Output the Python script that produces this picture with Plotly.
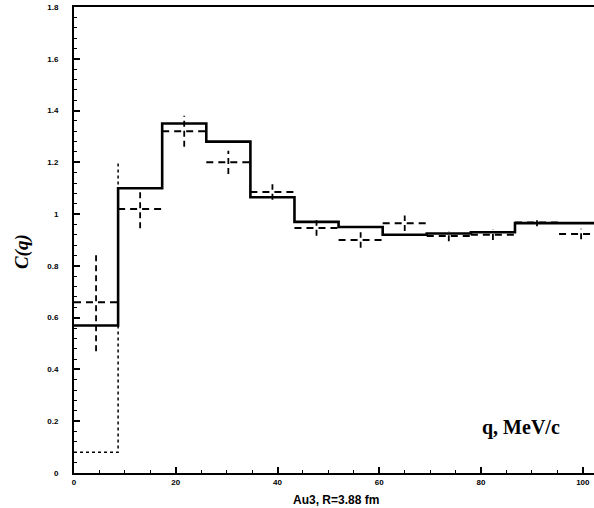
import plotly.graph_objects as go

# ---- data ----
bin_edges = [0, 8.67, 17.33, 26, 34.67, 43.33, 52, 60.67, 69.33, 78, 86.67, 95.33, 104]
solid_vals = [0.57, 1.10, 1.35, 1.28, 1.065, 0.97, 0.95, 0.92, 0.925, 0.93, 0.965, 0.965]
dashed_vals = [0.66, 1.02, 1.32, 1.20, 1.085, 0.946, 0.90, 0.965, 0.915, 0.92, 0.968, 0.923]
dashed_err = [0.19, 0.075, 0.06, 0.045, 0.03, 0.03, 0.03, 0.03, 0.02, 0.02, 0.015, 0.02]
dotted_vals = [0.08, 1.20]
y_ticks = [0, 0.2, 0.4, 0.6, 0.8, 1.0, 1.2, 1.4, 1.6, 1.8]
y_ticktext = ["0", "0.2", "0.4", "0.6", "0.8", "1", "1.2", "1.4", "1.6", "1.8"]
x_ticks = [0, 20, 40, 60, 80, 100]

centers = [(bin_edges[i] + bin_edges[i + 1]) / 2 for i in range(len(bin_edges) - 1)]

fig = go.Figure()

# solid histogram
fig.add_trace(go.Scatter(
    x=bin_edges, y=solid_vals + [solid_vals[-1]], mode="lines",
    line=dict(color="black", width=2.6, shape="hv"), hoverinfo="skip"))

# dashed histogram: horizontal segments only
hx, hy = [], []
for i, v in enumerate(dashed_vals):
    hx += [bin_edges[i], bin_edges[i + 1], None]
    hy += [v, v, None]
fig.add_trace(go.Scatter(
    x=hx, y=hy, mode="lines",
    line=dict(color="black", width=2, dash="7px,5px"), hoverinfo="skip"))

# dashed error bars
ex, ey = [], []
for c, v, e in zip(centers, dashed_vals, dashed_err):
    ex += [c, c, None]
    ey += [v - e, v + e, None]
fig.add_trace(go.Scatter(
    x=ex, y=ey, mode="lines",
    line=dict(color="black", width=1.8, dash="6px,4px"), hoverinfo="skip"))

# dotted histogram (visible part)
fig.add_trace(go.Scatter(
    x=bin_edges[:len(dotted_vals)], y=dotted_vals, mode="lines",
    line=dict(color="black", width=1.5, shape="hv", dash="dot"), hoverinfo="skip"))

tick_font = dict(family="Liberation Sans", size=8, color="black", weight="bold")

fig.update_layout(
    width=594, height=508,
    margin=dict(l=74, r=0, t=7, b=35),
    paper_bgcolor="white", plot_bgcolor="white",
    showlegend=False,
    xaxis=dict(
        range=[0, 102.2], showgrid=False, zeroline=False,
        showline=True, linecolor="black", linewidth=2, mirror=True,
        ticks="inside", ticklen=6, tickwidth=1.5, tickcolor="black",
        tickvals=x_ticks, tickfont=tick_font,
        minor=dict(ticks="inside", ticklen=3, tickwidth=1, tickcolor="black", dtick=5),
    ),
    yaxis=dict(
        range=[0, 1.8], showgrid=False, zeroline=False,
        showline=True, linecolor="black", linewidth=2,
        ticks="inside", ticklen=6, tickwidth=1.5, tickcolor="black",
        tickvals=y_ticks, ticktext=y_ticktext, tickfont=tick_font,
        ticklabelstandoff=12,
        minor=dict(ticks="inside", ticklen=3, tickwidth=1, tickcolor="black", dtick=0.04),
    ),
    annotations=[
        dict(text="<b><i>C(q)</i></b>", xref="paper", yref="paper", x=-0.1, y=0.474,
             xanchor="center", yanchor="middle", textangle=-90, showarrow=False,
             font=dict(family="Liberation Serif", size=19, color="black")),
        dict(text="<b>q, MeV/c</b>", xref="x", yref="y", x=87.8, y=0.174,
             xanchor="center", yanchor="middle", showarrow=False,
             font=dict(family="Liberation Serif", size=20, color="black")),
        dict(text="Au3, R=3.88 fm", xref="paper", yref="paper", x=0.504, y=-0.058,
             xanchor="center", yanchor="middle", showarrow=False,
             font=dict(family="Liberation Sans", size=12, color="black", weight="bold")),
    ],
)

fig.write_html("out.html")
